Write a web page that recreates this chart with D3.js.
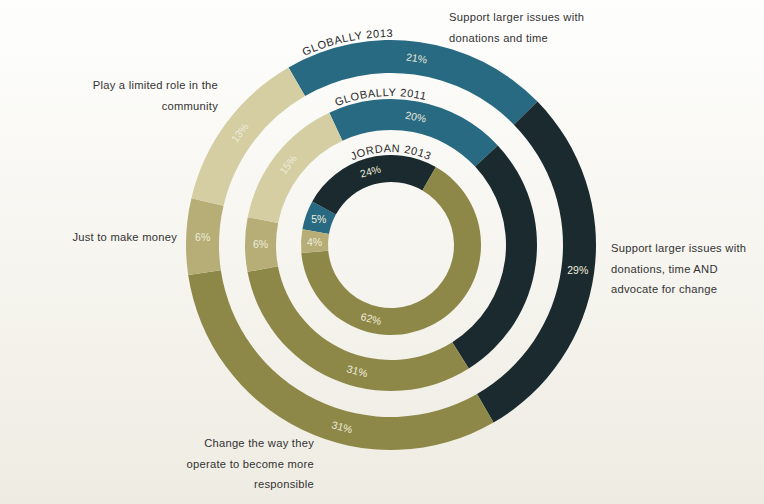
<!DOCTYPE html>
<html>
<head>
<meta charset="utf-8">
<script src="https://cdn.jsdelivr.net/npm/d3@7/dist/d3.min.js"></script>
<style>
  html, body { margin: 0; padding: 0; }
  body { width: 764px; height: 504px; overflow: hidden; }
  svg { display: block; }
</style>
</head>
<body>
<svg id="chart" width="764" height="504"></svg>
<script>
// Role of business in society: three concentric rings
const categories = [
  "Support larger issues with donations and time",
  "Support larger issues with donations, time AND advocate for change",
  "Change the way they operate to become more responsible",
  "Just to make money",
  "Play a limited role in the community"
];
const ringNames = ["GLOBALLY 2013", "GLOBALLY 2011", "JORDAN 2013"];
const global2013 = [21, 29, 31, 6, 13];
const global2011 = [20, 28, 31, 6, 15];
const jordan2013 = [5, 24, 62, 4, 0];
// which slices carry a printed percentage
const global2013Shown = [true, true, true, true, true];
const global2011Shown = [true, false, true, true, true];
const jordan2013Shown = [true, true, true, true, false];

const colors = ["#286a82", "#1a2a2e", "#8e8848", "#b6ae76", "#d4cea2"];

const W = 764, H = 504;
const cx = 391, cy = 245;
const svg = d3.select("#chart");

// soft paper background
const defs = svg.append("defs");
const grad = defs.append("linearGradient").attr("id", "bg")
  .attr("x1", 0).attr("y1", 0).attr("x2", 0).attr("y2", 1);
grad.append("stop").attr("offset", "0%").attr("stop-color", "#fefefd");
grad.append("stop").attr("offset", "100%").attr("stop-color", "#eeece2");
svg.append("rect").attr("width", W).attr("height", H).attr("fill", "url(#bg)");

const deg = Math.PI / 180;
const rings = [
  { name: ringNames[0], values: global2013, shown: global2013Shown, inner: 172, outer: 205, start: -30, titleAt: -12 },
  { name: ringNames[1], values: global2011, shown: global2011Shown, inner: 115, outer: 146, start: -25, titleAt: -4 },
  { name: ringNames[2], values: jordan2013, shown: jordan2013Shown, inner: 63,  outer: 90,  start: -80, titleAt: 0 }
];
// labels of the "operate responsibly" slice line up along the bottom
const bottomLabelAngle = 195;

const g = svg.append("g").attr("transform", `translate(${cx},${cy})`);

rings.forEach((ring, ri) => {
  const pie = d3.pie().sort(null).value(d => d)
    .startAngle(ring.start * deg).endAngle((ring.start + 360) * deg);
  const arcs = pie(ring.values);
  const arc = d3.arc().innerRadius(ring.inner).outerRadius(ring.outer);

  const rg = g.append("g").attr("class", "ring");
  rg.selectAll("path.slice")
    .data(arcs.filter(a => a.value > 0))
    .join("path")
    .attr("class", "slice")
    .attr("d", arc)
    .attr("fill", d => colors[d.index]);

  // percentage labels
  const midR = (ring.inner + ring.outer) / 2;
  rg.selectAll("text.pct")
    .data(arcs.filter(a => a.value > 0 && ring.shown[a.index]))
    .join("text")
    .attr("class", "pct")
    .attr("transform", d => {
      let a = (d.index === 2) ? bottomLabelAngle : (d.startAngle + d.endAngle) / 2 / deg;
      const x = midR * Math.sin(a * deg);
      const y = -midR * Math.cos(a * deg);
      let rot = ((a % 360) + 360) % 360;
      if (rot > 90 && rot <= 270) rot -= 180;
      if (rot > 270) rot -= 360;
      if (Math.abs(rot) > 65) rot = 0;
      return `translate(${x},${y}) rotate(${rot})`;
    })
    .attr("text-anchor", "middle")
    .attr("dy", "0.36em")
    .attr("font-family", "Liberation Sans, Arial, sans-serif")
    .attr("font-size", 10.5)
    .attr("fill", "#eeecdc")
    .text(d => d.value + "%");

  // curved ring title
  const tr = ring.outer + 3;
  const a0 = (ring.titleAt - 70) * deg, a1 = (ring.titleAt + 70) * deg;
  const p = d3.path();
  p.arc(0, 0, tr, a0 - Math.PI / 2, a1 - Math.PI / 2, false);
  defs.append("path").attr("id", "title-path-" + ri)
    .attr("d", p.toString())
    .attr("transform", `translate(${cx},${cy})`);
  svg.append("text")
    .attr("font-family", "Liberation Sans, Arial, sans-serif")
    .attr("font-size", 11)
    .attr("letter-spacing", 0.6)
    .attr("fill", "#2a2a2a")
    .append("textPath")
    .attr("href", "#title-path-" + ri)
    .attr("startOffset", "50%")
    .attr("text-anchor", "middle")
    .text(ring.name);
});

// category annotations
const annotations = [
  { lines: ["Support larger issues with", "donations and time"], x: 449, y: 21, anchor: "start" },
  { lines: ["Support larger issues with", "donations, time AND", "advocate for change"], x: 611, y: 252, anchor: "start" },
  { lines: ["Change the way they", "operate to become more", "responsible"], x: 314, y: 447, anchor: "end" },
  { lines: ["Just to make money"], x: 177, y: 241, anchor: "end" },
  { lines: ["Play a limited role in the", "community"], x: 218, y: 89, anchor: "end" }
];
annotations.forEach((an, i) => {
  const t = svg.append("text")
    .attr("class", "category")
    .attr("font-family", "Liberation Sans, Arial, sans-serif")
    .attr("font-size", 11.2)
    .attr("letter-spacing", 0.25)
    .attr("fill", "#333333")
    .attr("text-anchor", an.anchor)
    .attr("x", an.x).attr("y", an.y)
    .attr("data-category", categories[i]);
  an.lines.forEach((ln, k) => {
    t.append("tspan").attr("x", an.x).attr("dy", k === 0 ? 0 : 20.5).text(ln);
  });
});
</script>
</body>
</html>
